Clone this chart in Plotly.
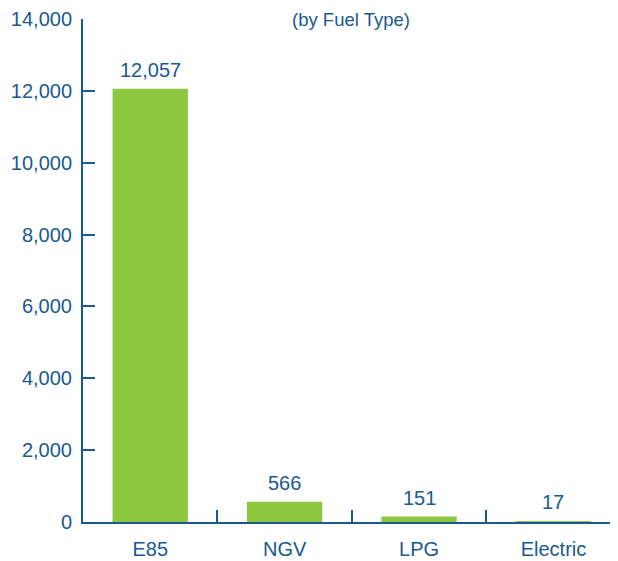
import plotly.graph_objects as go

categories = ["E85", "NGV", "LPG", "Electric"]
values = [12057, 566, 151, 17]
value_labels = ["12,057", "566", "151", "17"]
y_ticks = [0, 2000, 4000, 6000, 8000, 10000, 12000, 14000]
y_tick_labels = ["0", "2,000", "4,000", "6,000", "8,000", "10,000", "12,000", "14,000"]
title_text = "(by Fuel Type)"

BLUE = "#1a5a8f"
GREEN = "#8dc63f"
FONT = "Liberation Sans"

fig = go.Figure()
fig.add_trace(go.Bar(x=categories, y=values, marker_color=GREEN, width=0.56,
                     marker_line_width=0, hoverinfo="skip"))

for c, v, t in zip(categories, values, value_labels):
    fig.add_annotation(x=c, y=v, text=t, showarrow=False, yanchor="bottom",
                       yshift=6, font=dict(family=FONT, size=20, color=BLUE))

fig.add_annotation(xref="paper", yref="paper", x=0.5, y=1, yshift=12,
                   text=title_text, showarrow=False, yanchor="top",
                   font=dict(family=FONT, size=18.5, color=BLUE))

fig.update_layout(
    width=610, height=553,
    margin=dict(l=75, r=0, t=9, b=39),
    plot_bgcolor="white", paper_bgcolor="white",
    showlegend=False,
    font=dict(family=FONT, size=20, color=BLUE),
    bargap=0.44,
)
fig.update_xaxes(range=[-0.5, 3.48], tickson="boundaries", ticks="inside",
                 ticklen=12, tickwidth=1.5, tickcolor=BLUE,
                 showline=True, linecolor=BLUE, linewidth=2,
                 showgrid=False, zeroline=False, ticklabelstandoff=8,
                 tickfont=dict(family=FONT, size=20, color=BLUE))
fig.update_yaxes(range=[0, 14000.5], tickvals=y_ticks, ticktext=y_tick_labels,
                 ticks="inside", ticklen=12, tickwidth=1.5, tickcolor=BLUE,
                 showline=True, linecolor=BLUE, linewidth=2,
                 showgrid=False, zeroline=False, ticklabelstandoff=5,
                 ticklabeloverflow="allow",
                 tickfont=dict(family=FONT, size=20, color=BLUE))

fig.write_html("out.html")
